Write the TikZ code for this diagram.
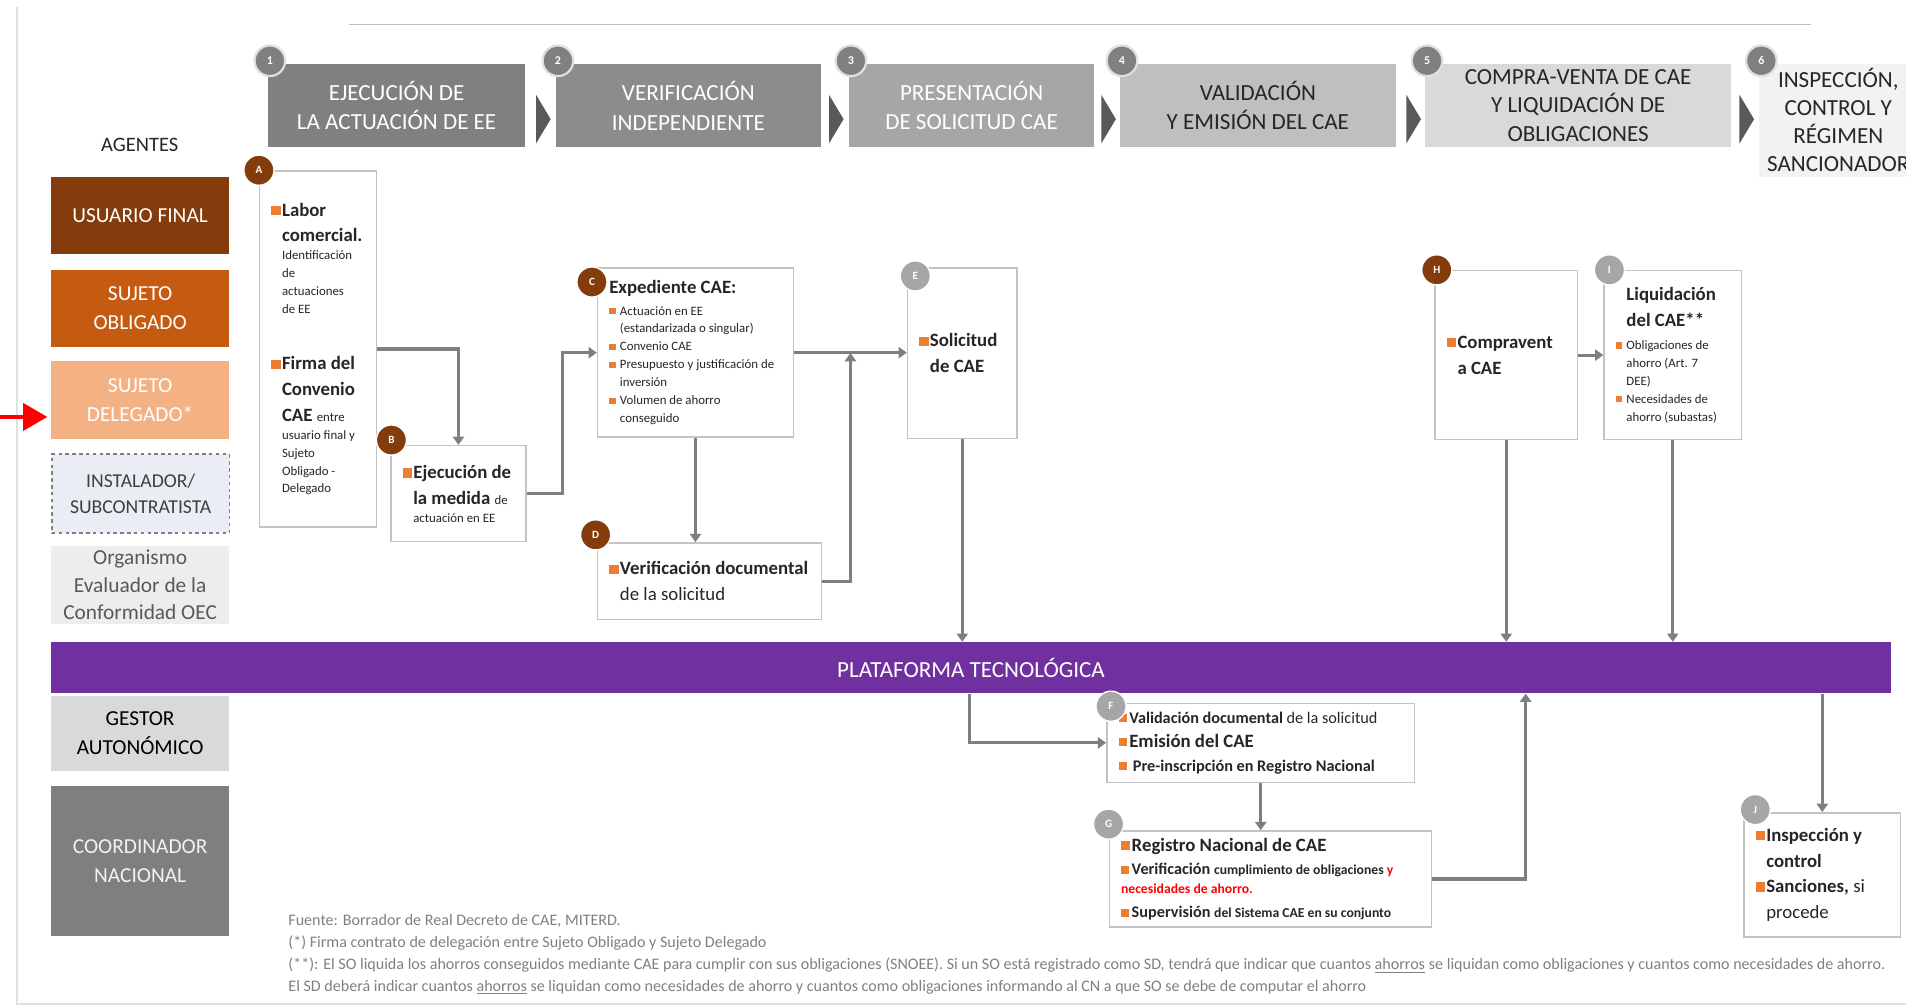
\documentclass[tikz,border=0pt]{standalone}
\usepackage{fontspec}
\setmainfont{Carlito}
\usetikzlibrary{arrows.meta,calc}
\definecolor{usercol}{RGB}{132,60,12}
\definecolor{obligcol}{RGB}{197,90,17}
\definecolor{delegcol}{RGB}{244,177,131}
\definecolor{instcol}{RGB}{234,237,243}
\definecolor{oeccol}{RGB}{237,237,237}
\definecolor{gestcol}{RGB}{217,217,217}
\definecolor{coordcol}{RGB}{127,127,127}
\definecolor{platcol}{RGB}{112,48,160}
\definecolor{stepa}{RGB}{128,128,128}
\definecolor{stepb}{RGB}{140,140,140}
\definecolor{stepc}{RGB}{166,166,166}
\definecolor{stepd}{RGB}{191,191,191}
\definecolor{stepe}{RGB}{217,217,217}
\definecolor{stepf}{RGB}{242,242,242}
\definecolor{chevcol}{RGB}{89,89,89}
\definecolor{conncol}{RGB}{127,127,127}
\definecolor{boxline}{RGB}{195,195,195}
\definecolor{bulletcol}{RGB}{237,125,49}
\definecolor{badgegray}{RGB}{166,166,166}
\definecolor{notecol}{RGB}{128,128,128}
\definecolor{textcol}{RGB}{38,38,38}
\definecolor{darktext}{RGB}{64,64,64}
\definecolor{oectext}{RGB}{89,89,89}
\definecolor{framecol}{RGB}{225,225,225}
\newlength{\bulw}\setlength{\bulw}{2.2mm}
\newcommand{\fbig}{\fontsize{11}{15}\selectfont}
\newcommand{\fmid}{\fontsize{9.5}{14}\selectfont}
\newcommand{\fsmall}{\fontsize{7.5}{10.5}\selectfont}
\newcommand{\sqb}{\textcolor{bulletcol}{\rule[0.05em]{0.5em}{0.5em}}}
\newcommand{\bigitem}[1]{{\fbig\noindent\makebox[\bulw][l]{\sqb}#1\par}}
\newcommand{\bigcont}[1]{{\fbig\noindent\hspace*{\bulw}#1\par}}
\newcommand{\bighead}[1]{{\fbig\noindent#1\par}}
\newcommand{\miditem}[1]{{\fmid\noindent\makebox[\bulw][l]{\sqb}#1\par}}
\newcommand{\smallitem}[1]{{\fsmall\noindent\makebox[\bulw][l]{\sqb}#1\par}}
\newcommand{\smallcont}[1]{{\fsmall\noindent\hspace*{\bulw}#1\par}}
\newcommand{\smallhead}[1]{{\fsmall\noindent#1\par}}
\tikzset{
  stepbox/.style={anchor=north west,minimum height=17.25mm,inner sep=0pt,align=center,text=textcol,font=\fontsize{13.5}{17.5}\selectfont},
  agentbox/.style={anchor=north west,minimum width=36.5mm,inner sep=0pt,align=center,font=\fontsize{12.5}{17}\selectfont},
  procbox/.style={anchor=north west,draw=boxline,fill=white,line width=0.9pt,inner xsep=2.4mm,inner ysep=0pt,align=flush left,text=textcol},
  stepbadge/.style={circle,fill=stepa,draw=white!88!black,line width=1.3pt,minimum size=6.3mm,inner sep=0pt,text=white,font=\fontsize{7}{8}\selectfont\bfseries},
  badgeo/.style={circle,fill=usercol,draw=white,line width=0.8pt,minimum size=6.2mm,inner sep=0pt,text=white,font=\fontsize{6.5}{7}\selectfont\bfseries},
  badgeg/.style={badgeo,fill=badgegray},
  conn/.style={draw=conncol,line width=1.8pt,-{Triangle[length=1.7mm,width=2.3mm]}},
  redarr/.style={draw=red,line width=1mm,-{Triangle[length=5mm,width=5.5mm]}},
  notetext/.style={anchor=north west,inner sep=0pt,align=left,text=notecol,font=\fontsize{9.4}{12.8}\selectfont}
}
\begin{document}
\begin{tikzpicture}[x=0.25mm,y=-0.25mm]
  \useasboundingbox (0,0) rectangle (1568,828);
  \draw[framecol,line width=1.2pt] (14,6) -- (14,826) -- (1568,826);
  \draw[framecol!85!black,line width=0.8pt] (287,20) -- (1490,20);
  % phases
  \node[stepbox,fill=stepa,text=white,minimum width=53mm] (s1) at (220,52) {EJECUCIÓN DE\\LA ACTUACIÓN DE EE};
  \node[stepbox,fill=stepb,text=white,minimum width=54.5mm] (s2) at (457,52) {VERIFICACIÓN\\INDEPENDIENTE};
  \node[stepbox,fill=stepc,text=white,minimum width=50.5mm] (s3) at (698,52) {PRESENTACIÓN\\DE SOLICITUD CAE};
  \node[stepbox,fill=stepd,minimum width=56.75mm] (s4) at (921,52) {VALIDACIÓN\\Y EMISIÓN DEL CAE};
  \node[stepbox,fill=stepe,minimum width=63mm,font=\fontsize{13.5}{16.5}\selectfont] (s5) at (1172,52) {COMPRA-VENTA DE CAE\\Y LIQUIDACIÓN DE\\OBLIGACIONES};
  \node[stepbox,fill=stepf,minimum width=32.5mm,minimum height=23.25mm,font=\fontsize{13.5}{16.5}\selectfont] (s6) at (1447,52) {INSPECCIÓN,\\CONTROL Y\\RÉGIMEN\\SANCIONADOR};
  \foreach \cx in {441,682,906,1157,1431}
    \fill[chevcol] (\cx,78) -- ++(12,20) -- ++(-12,20) -- cycle;
  \foreach \nm/\lb in {s1/1,s2/2,s3/3,s4/4,s5/5,s6/6}
    \node[stepbadge] (b\lb) at ($(\nm.north west)+(2,-2)$) {\lb};
  % agents
  \node[font=\fontsize{12}{14}\selectfont,text=textcol] (agt) at (115,119) {AGENTES};
  \node[agentbox,fill=usercol,text=white,minimum height=16mm] (ag1) at (42,145) {USUARIO FINAL};
  \node[agentbox,fill=obligcol,text=white,minimum height=15.75mm] (ag2) at (42,222) {SUJETO\\OBLIGADO};
  \node[agentbox,fill=delegcol,text=white,minimum height=16mm] (ag3) at (42,297) {SUJETO\\DELEGADO*};
  \node[agentbox,fill=instcol,draw=coordcol,dash pattern=on 2pt off 2pt,line width=1pt,text=darktext,minimum height=16.25mm,font=\fontsize{11.5}{15}\selectfont] (ag4) at (42,373) {INSTALADOR/\\SUBCONTRATISTA};
  \node[agentbox,fill=oeccol,text=oectext,minimum height=16mm,font=\fontsize{12.5}{16}\selectfont] (ag5) at (42,449) {Organismo\\Evaluador de la\\Conformidad OEC};
  \node[agentbox,fill=gestcol,text=black,minimum height=15.5mm] (ag6) at (42,572) {GESTOR\\AUTONÓMICO};
  \node[agentbox,fill=coordcol,text=white!95!black,minimum height=31mm] (ag7) at (42,646) {COORDINADOR\\NACIONAL};
  \coordinate (rtail) at (0,343);
  \coordinate (rtip) at (39,343);
  \draw[redarr] (rtail) -- (rtip);
  % platform
  \node[anchor=north west,fill=platcol,text=white,minimum width=378.25mm,minimum height=10.5mm,inner sep=0pt,font=\fontsize{13.5}{16}\selectfont] (plat) at (42,528) {PLATAFORMA TECNOLÓGICA};
  % process boxes
  \node[procbox,text width=19.2mm,minimum height=73.25mm] (A) at (213,140) {%
    \bigitem{\textbf{Labor}}
    \bigcont{\textbf{comercial.}}
    \smallcont{Identificación}
    \smallcont{de}
    \smallcont{actuaciones}
    \smallcont{de EE}
    \vspace{18pt}
    \bigitem{\textbf{Firma del}}
    \bigcont{\textbf{Convenio}}
    \bigcont{\textbf{CAE} {\fsmall entre}}
    \smallcont{usuario final y}
    \smallcont{Sujeto}
    \smallcont{Obligado -}
    \smallcont{Delegado}};
  \node[procbox,text width=22.95mm,minimum height=19.75mm] (B) at (321,366) {%
    \bigitem{\textbf{Ejecución de}}
    \bigcont{\textbf{la medida} {\fsmall de}}
    \smallcont{actuación en EE}};
  \node[procbox,text width=35.45mm,minimum height=34.75mm] (C) at (491,220) {%
    \bighead{\textbf{Expediente CAE:}}
    \vspace{2pt}
    \smallitem{Actuación en EE}
    \smallcont{(estandarizada o singular)}
    \smallitem{Convenio CAE}
    \smallitem{Presupuesto~y~justificación~de}
    \smallcont{inversión}
    \smallitem{Volumen de ahorro}
    \smallcont{conseguido}};
  \node[procbox,text width=41.2mm,minimum height=15.75mm] (D) at (491,446) {%
    \bigitem{\textbf{Verificación~documental}}
    \bigcont{de la solicitud}};
  \node[procbox,text width=17.7mm,minimum height=35mm] (E) at (746,220) {%
    \bigitem{\textbf{Solicitud}}
    \bigcont{\textbf{de CAE}}};
  \node[procbox,text width=24.45mm,minimum height=34.75mm] (H) at (1180,222) {%
    \bigitem{\textbf{Compravent}}
    \bigcont{\textbf{a CAE}}};
  \node[procbox,text width=23.45mm,minimum height=34.75mm] (I) at (1319,222) {%
    \bigcont{\textbf{Liquidación}}
    \bigcont{\textbf{del CAE**}}
    \vspace{3pt}
    \smallitem{Obligaciones de}
    \smallcont{ahorro (Art. 7}
    \smallcont{DEE)}
    \smallitem{Necesidades de}
    \smallcont{ahorro (subastas)}};
  \node[procbox,text width=58.45mm,minimum height=16.25mm] (F) at (910,578) {%
    \miditem{\textbf{Validación documental} de la solicitud}
    \miditem{{\fontsize{11}{14}\selectfont\textbf{Emisión del CAE}}}
    \miditem{\ \textbf{Pre-inscripción en Registro Nacional}}};
  \node[procbox,text width=61.45mm,minimum height=19.75mm] (G) at (912,683) {%
    \bigitem{\textbf{Registro Nacional de CAE}}
    \miditem{\textbf{Verificación} {\fontsize{8}{10}\selectfont\textbf{cumplimiento de obligaciones \textcolor{red}{y}}}}
    \smallhead{\fontsize{8}{11}\selectfont\textcolor{red}{\textbf{necesidades de ahorro.}}}
    \miditem{\textbf{Supervisión} {\fontsize{8}{10}\selectfont\textbf{del Sistema CAE en su conjunto}}}};
  \node[procbox,text width=27.45mm,minimum height=25.5mm] (J) at (1434,668) {%
    \bigitem{\textbf{Inspección y}}
    \bigcont{\textbf{control}}
    \bigitem{\textbf{Sanciones,} si}
    \bigcont{procede}};
  \node[badgeo] (bA) at (A.north west) {A};
  \node[badgeo] (bB) at ($(B.north west)+(1,-4)$) {B};
  \node[badgeo] (bC) at ($(C.north west)+(-4,12)$) {C};
  \node[badgeo] (bD) at ($(D.north west)+(-1,-6)$) {D};
  \node[badgeg] (bE) at ($(E.north west)+(7,7)$) {E};
  \node[badgeg] (bF) at ($(F.north west)+(4,3)$) {F};
  \node[badgeg] (bG) at ($(G.north west)+(0,-5)$) {G};
  \node[badgeo] (bH) at ($(H.north west)+(2,0)$) {H};
  \node[badgeg] (bI) at ($(I.north west)+(5,0)$) {I};
  \node[badgeg] (bJ) at ($(J.north west)+(10,-2)$) {J};
  % connectors
  \draw[conn] (A.east) -| (B.north);
  \draw[conn] (B.east) -- ++(29.5,0) |- (C.west);
  \draw[conn] (C.south) -- (C.south |- D.north);
  \draw[conn] (C.east) -- (C.east -| E.west);
  \coordinate (cejoin) at ($(C.east)!.5!(E.west)$);
  \draw[conn] (D.east) -| (cejoin);
  \draw[conn] (E.south) -- (E.south |- plat.north);
  \coordinate (pf) at ($(E.south |- plat.south)+(6,0)$);
  \draw[conn] (pf) |- (F.west);
  \draw[conn] (F.south) -- (F.south |- G.north);
  \coordinate (pg) at ($(H.south |- plat.south)+(16,0)$);
  \draw[conn] (G.east) -| (pg);
  \draw[conn] (H.south) -- (H.south |- plat.north);
  \draw[conn] (H.east) -- (I.west);
  \draw[conn] (I.south) -- (I.south |- plat.north);
  \draw[conn] (plat.south -| J.north) -- (J.north);
  % notes
  \node[notetext] (fn) at (237,752) {Fuente: Borrador de Real Decreto de CAE, MITERD.\\
    (*) Firma contrato de delegación entre Sujeto Obligado y Sujeto Delegado\\
    (**): El SO liquida los ahorros conseguidos mediante CAE para cumplir con sus obligaciones (SNOEE). Si un SO está registrado como SD, tendrá que indicar que cuantos \underline{ahorros} se liquidan como obligaciones y cuantos como necesidades de ahorro.\\
    El SD deberá indicar cuantos \underline{ahorros} se liquidan como necesidades de ahorro y cuantos como obligaciones informando al CN a que SO se debe de computar el ahorro};
\end{tikzpicture}
\end{document}
